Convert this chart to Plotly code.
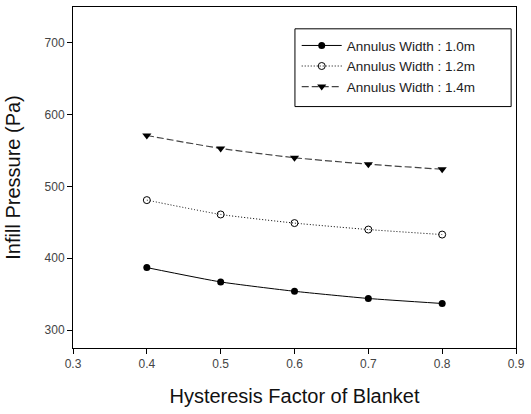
import plotly.graph_objects as go

x_vals = [0.4, 0.5, 0.6, 0.7, 0.8]
w10 = [387, 367, 354, 344, 337]
w12 = [481, 461, 449, 440, 433]
w14 = [571, 553, 540, 531, 524]
names = ["Annulus Width : 1.0m", "Annulus Width : 1.2m", "Annulus Width : 1.4m"]

fig = go.Figure()
fig.add_trace(go.Scatter(x=x_vals, y=w10, name=names[0], mode="lines+markers",
                         line=dict(color="black", width=1, shape="spline", smoothing=0.5),
                         marker=dict(symbol="circle", size=7, color="black")))
fig.add_trace(go.Scatter(x=x_vals, y=w12, name=names[1], mode="lines+markers",
                         line=dict(color="black", width=1, dash="1px,2px", shape="spline", smoothing=0.5),
                         marker=dict(symbol="circle-open", size=7, color="black", line=dict(width=1))))
fig.add_trace(go.Scatter(x=x_vals, y=w14, name=names[2], mode="lines+markers",
                         line=dict(color="#444", width=1.2, dash="7px,3px", shape="spline", smoothing=0.5),
                         marker=dict(symbol="triangle-down", size=8, color="black")))

tickfont = dict(family="Liberation Sans Narrow, Liberation Sans, Arial", size=12, color="#444")
titlefont = dict(family="Liberation Sans, Arial", size=20, color="#111")
fig.update_layout(
    width=531, height=414,
    margin=dict(l=73, r=11, t=6, b=66),
    paper_bgcolor="white", plot_bgcolor="white",
    font=dict(family="Liberation Sans, Arial", color="black"),
    showlegend=True,
    legend=dict(x=0.505, y=0.932, xanchor="left", yanchor="top",
                borderwidth=0, bgcolor="rgba(0,0,0,0)",
                font=dict(family="Liberation Sans, Arial", size=13.5, color="#222"),
                tracegroupgap=0, itemwidth=40),
    shapes=[dict(type="rect", xref="paper", yref="paper",
                 x0=0.501, x1=0.989, y0=0.708, y1=0.936,
                 line=dict(color="black", width=1), fillcolor="rgba(0,0,0,0)", layer="above")],
    xaxis=dict(range=[0.3, 0.9], tickvals=[0.3, 0.4, 0.5, 0.6, 0.7, 0.8, 0.9],
               ticktext=["0.3", "0.4", "0.5", "0.6", "0.7", "0.8", "0.9"],
               ticks="outside", ticklen=5, tickcolor="black", showgrid=False,
               zeroline=False, showline=True, linecolor="black", linewidth=1, mirror=True,
               tickfont=tickfont,
               title=dict(text="Hysteresis Factor of Blanket", font=titlefont, standoff=18)),
    yaxis=dict(range=[275, 750], tickvals=[300, 400, 500, 600, 700],
               ticks="outside", ticklen=5, tickcolor="black", showgrid=False,
               zeroline=False, showline=True, linecolor="black", linewidth=1, mirror=True,
               tickfont=tickfont,
               title=dict(text="Infill Pressure (Pa)", font=titlefont, standoff=18)),
)
fig.write_html("out.html")
